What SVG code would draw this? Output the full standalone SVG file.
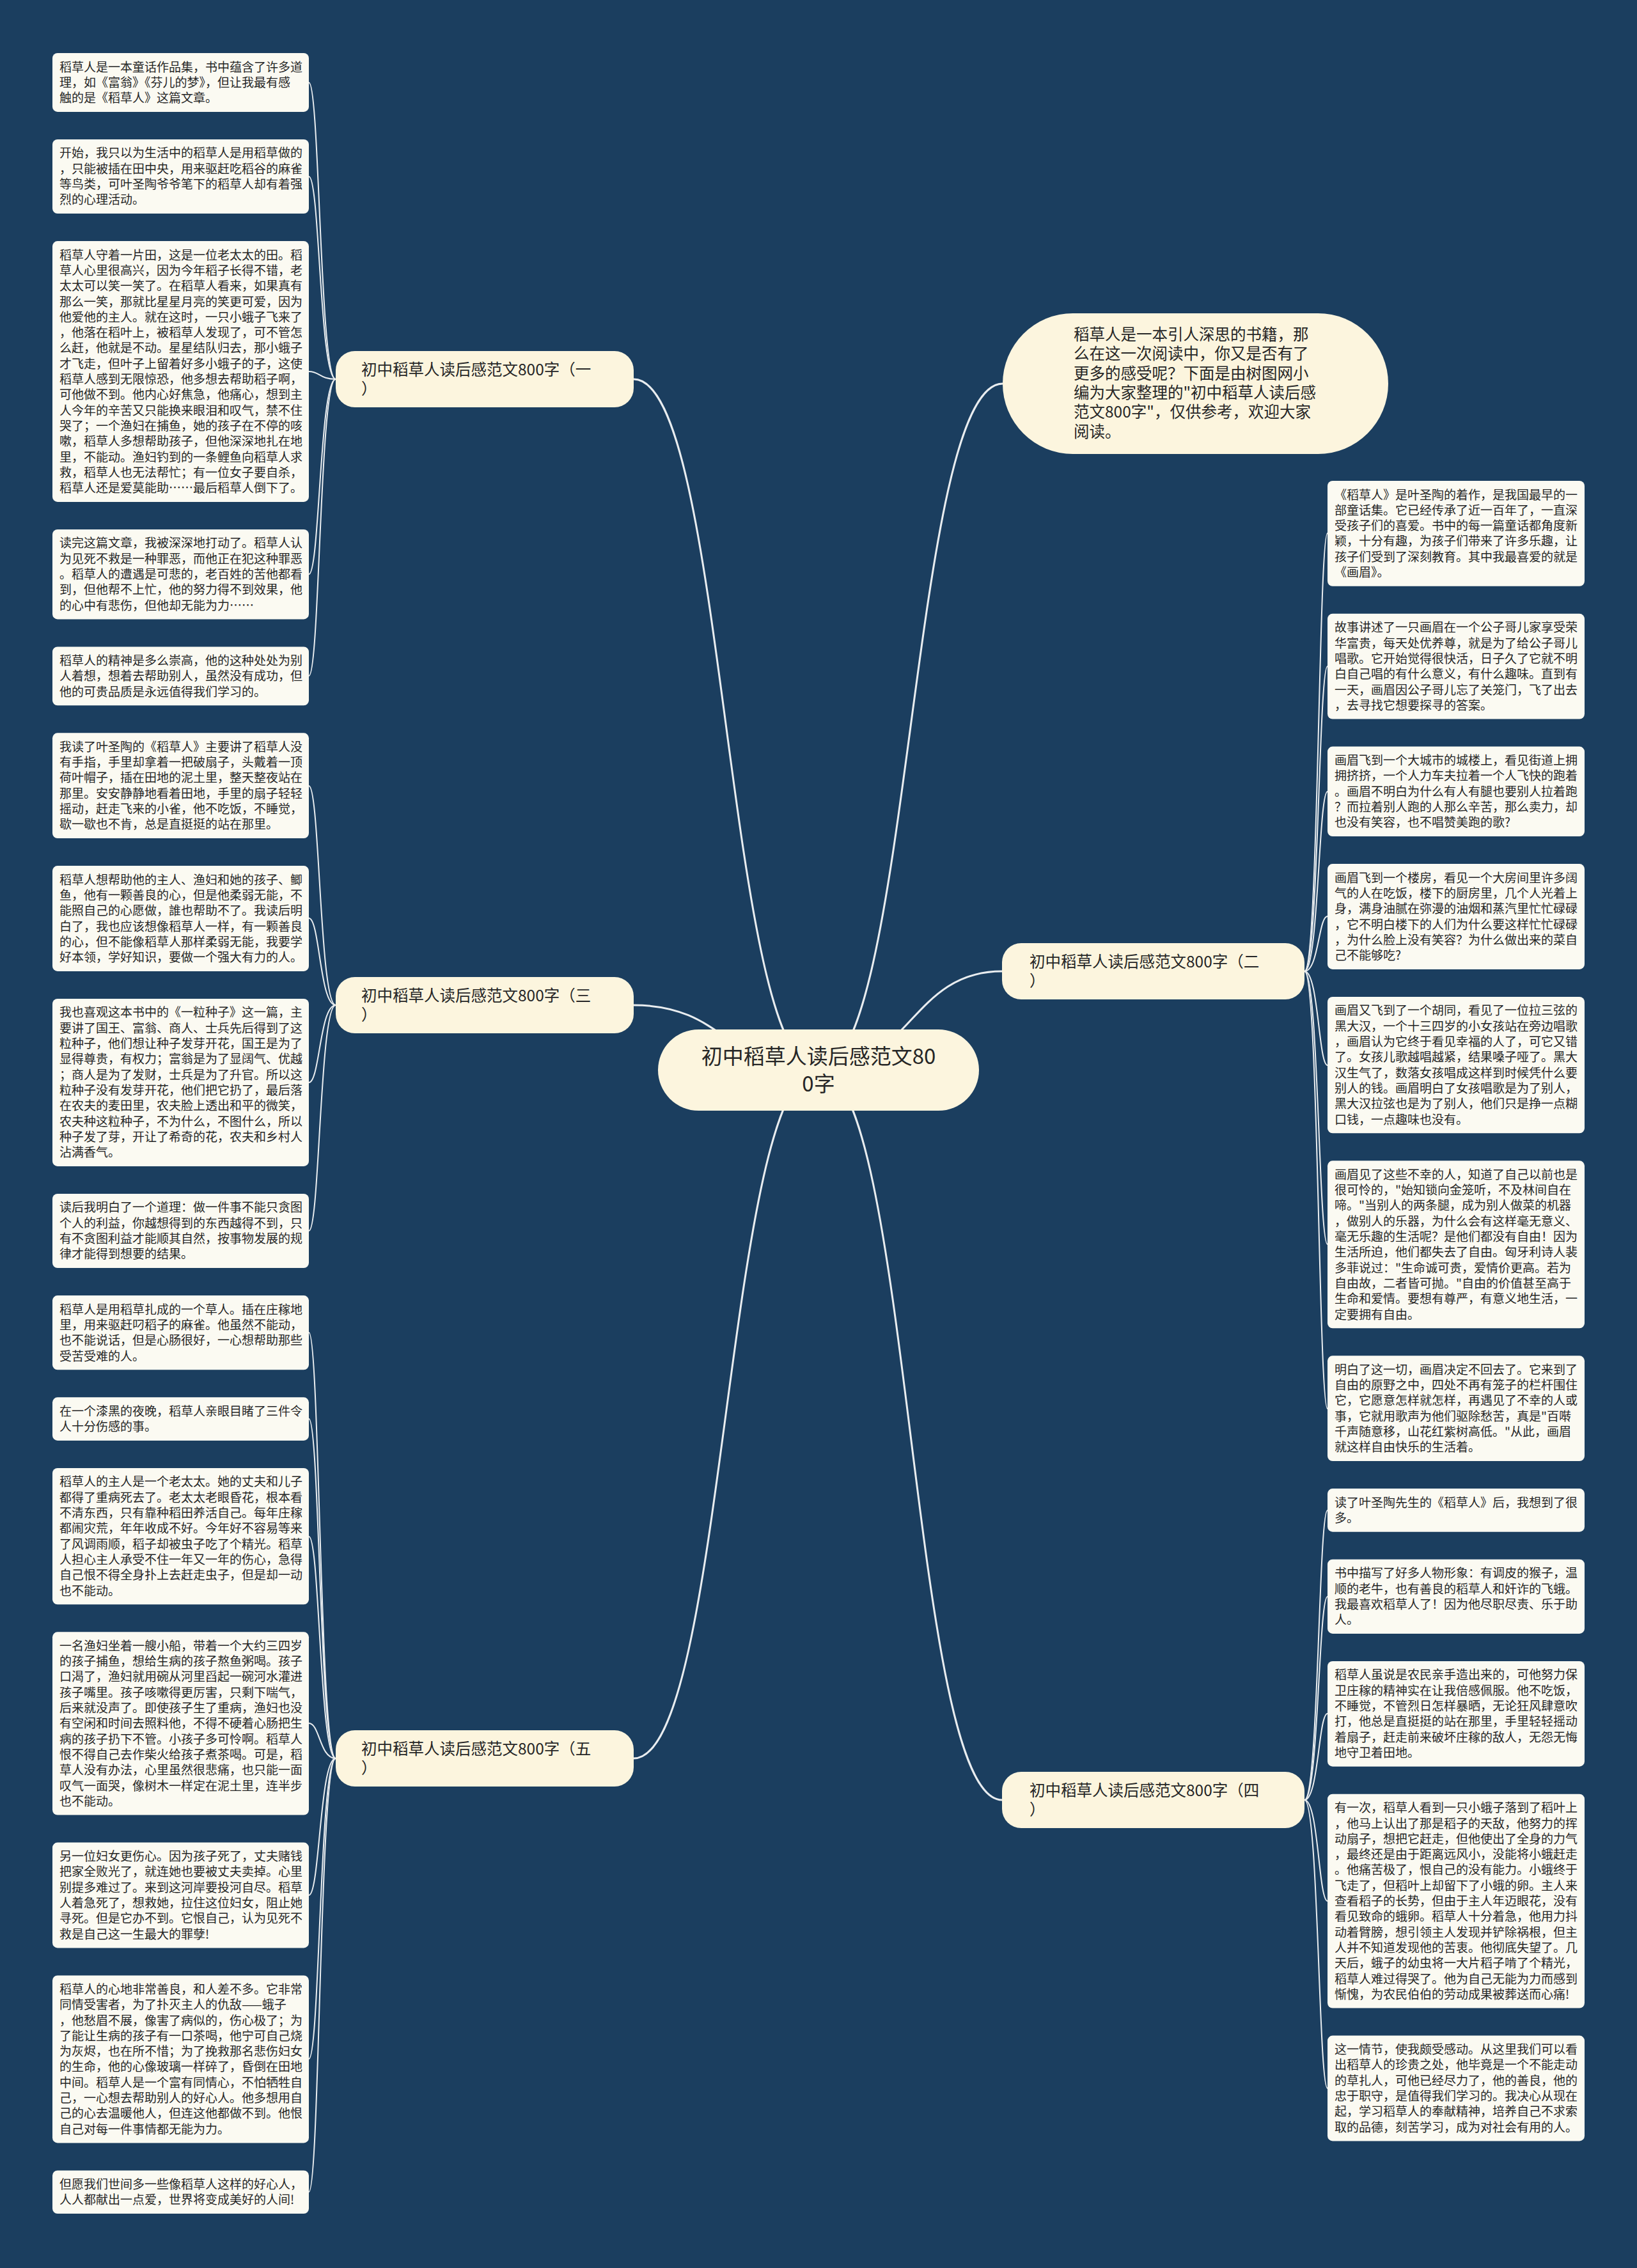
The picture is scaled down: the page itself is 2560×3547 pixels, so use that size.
<svg xmlns="http://www.w3.org/2000/svg" width="2560" height="3547" viewBox="0 0 2560 3547">
<style>
.bg{fill:#1b3e5f}
.leaf rect{fill:#fbfaf2}
.lt{font-family:"Noto Sans CJK SC","Noto Sans",sans-serif;font-size:19px;fill:#262626}
.br rect{fill:#fcf5de}
.bt{font-family:"Noto Sans CJK SC","Noto Sans",sans-serif;font-size:24.5px;fill:#262626}
.ct{font-family:"Noto Sans CJK SC","Noto Sans",sans-serif;font-size:33px;fill:#262626}
.c1{fill:none;stroke:#e9edf0;stroke-width:3}
.c2{fill:none;stroke:#e9edf0;stroke-width:2}
</style>
<rect class="bg" x="0" y="0" width="2560" height="3547"/>
<g id="connectors">
<path class="c1" d="M1280,1673 C1135,1673 1135,593 991,593"/>
<path class="c1" d="M1280,1673 C1135,1673 1135,1572 991,1572"/>
<path class="c1" d="M1280,1673 C1135,1673 1135,2750 991,2750"/>
<path class="c1" d="M1280,1673 C1424,1673 1424,600 1568,600"/>
<path class="c1" d="M1280,1673 C1424,1673 1424,1519 1567,1519"/>
<path class="c1" d="M1280,1673 C1424,1673 1424,2815 1567,2815"/>
<path class="c2" d="M525,593 C500,593 500,129 483,129"/>
<path class="c2" d="M525,593 C500,593 500,276 483,276"/>
<path class="c2" d="M525,593 C500,593 500,581 483,581"/>
<path class="c2" d="M525,593 C500,593 500,898 483,898"/>
<path class="c2" d="M525,593 C500,593 500,1057 483,1057"/>
<path class="c2" d="M525,1572 C500,1572 500,1229 483,1229"/>
<path class="c2" d="M525,1572 C500,1572 500,1436 483,1436"/>
<path class="c2" d="M525,1572 C500,1572 500,1693 483,1693"/>
<path class="c2" d="M525,1572 C500,1572 500,1925 483,1925"/>
<path class="c2" d="M525,2750 C500,2750 500,2084 483,2084"/>
<path class="c2" d="M525,2750 C500,2750 500,2219 483,2219"/>
<path class="c2" d="M525,2750 C500,2750 500,2403 483,2403"/>
<path class="c2" d="M525,2750 C500,2750 500,2695 483,2695"/>
<path class="c2" d="M525,2750 C500,2750 500,2964 483,2964"/>
<path class="c2" d="M525,2750 C500,2750 500,3220 483,3220"/>
<path class="c2" d="M525,2750 C500,2750 500,3428 483,3428"/>
<path class="c2" d="M2040,1519 C2062,1519 2062,834 2076,834"/>
<path class="c2" d="M2040,1519 C2062,1519 2062,1042 2076,1042"/>
<path class="c2" d="M2040,1519 C2062,1519 2062,1238 2076,1238"/>
<path class="c2" d="M2040,1519 C2062,1519 2062,1433 2076,1433"/>
<path class="c2" d="M2040,1519 C2062,1519 2062,1666 2076,1666"/>
<path class="c2" d="M2040,1519 C2062,1519 2062,1946 2076,1946"/>
<path class="c2" d="M2040,1519 C2062,1519 2062,2203 2076,2203"/>
<path class="c2" d="M2040,2815 C2062,2815 2062,2362 2076,2362"/>
<path class="c2" d="M2040,2815 C2062,2815 2062,2497 2076,2497"/>
<path class="c2" d="M2040,2815 C2062,2815 2062,2680 2076,2680"/>
<path class="c2" d="M2040,2815 C2062,2815 2062,2973 2076,2973"/>
<path class="c2" d="M2040,2815 C2062,2815 2062,3266 2076,3266"/>
</g>
<g id="center" class="br">
<rect x="1029" y="1610" width="502" height="127" rx="63.5"/>
<text class="ct" text-anchor="middle"><tspan x="1280" y="1664">初中稻草人读后感范文80</tspan><tspan x="1280" y="1707">0字</tspan></text>
</g>
<g id="intro" class="br">
<rect x="1568" y="490" width="603" height="220" rx="110"/>
<text class="bt"><tspan x="1679" y="532">稻草人是一本引人深思的书籍，那</tspan><tspan x="1679" y="562.3">么在这一次阅读中，你又是否有了</tspan><tspan x="1679" y="592.6">更多的感受呢？下面是由树图网小</tspan><tspan x="1679" y="622.9">编为大家整理的"初中稻草人读后感</tspan><tspan x="1679" y="653.2">范文800字"，仅供参考，欢迎大家</tspan><tspan x="1679" y="683.5">阅读。</tspan></text>
</g>
<g id="b1" class="br" transform="translate(525,549)">
<rect width="466" height="88" rx="30"/>
<text class="bt"><tspan x="40" y="38">初中稻草人读后感范文800字（一</tspan><tspan x="40" y="68">）</tspan></text>
</g>
<g id="b3" class="br" transform="translate(525,1528)">
<rect width="466" height="88" rx="30"/>
<text class="bt"><tspan x="40" y="38">初中稻草人读后感范文800字（三</tspan><tspan x="40" y="68">）</tspan></text>
</g>
<g id="b5" class="br" transform="translate(525,2706)">
<rect width="466" height="88" rx="30"/>
<text class="bt"><tspan x="40" y="38">初中稻草人读后感范文800字（五</tspan><tspan x="40" y="68">）</tspan></text>
</g>
<g id="b2" class="br" transform="translate(1567,1475)">
<rect width="473" height="88" rx="30"/>
<text class="bt"><tspan x="43" y="38">初中稻草人读后感范文800字（二</tspan><tspan x="43" y="68">）</tspan></text>
</g>
<g id="b4" class="br" transform="translate(1567,2771)">
<rect width="473" height="88" rx="30"/>
<text class="bt"><tspan x="43" y="38">初中稻草人读后感范文800字（四</tspan><tspan x="43" y="68">）</tspan></text>
</g>
<g id="L1" class="leaf" transform="translate(82,83)"><rect width="401" height="91.9" rx="8"/><text class="lt" y="28.6"><tspan x="11">稻草人是一本童话作品集，书中蕴含了许多道</tspan><tspan x="11" dy="24.3">理，如《富翁》《芬儿的梦》，但让我最有感</tspan><tspan x="11" dy="24.3">触的是《稻草人》这篇文章。</tspan></text></g>
<g id="L2" class="leaf" transform="translate(82,217.9)"><rect width="401" height="116.2" rx="8"/><text class="lt" y="28.6"><tspan x="11">开始，我只以为生活中的稻草人是用稻草做的</tspan><tspan x="11" dy="24.3">，只能被插在田中央，用来驱赶吃稻谷的麻雀</tspan><tspan x="11" dy="24.3">等鸟类，可叶圣陶爷爷笔下的稻草人却有着强</tspan><tspan x="11" dy="24.3">烈的心理活动。</tspan></text></g>
<g id="L3" class="leaf" transform="translate(82,377.1)"><rect width="401" height="407.8" rx="8"/><text class="lt" y="28.6"><tspan x="11">稻草人守着一片田，这是一位老太太的田。稻</tspan><tspan x="11" dy="24.3">草人心里很高兴，因为今年稻子长得不错，老</tspan><tspan x="11" dy="24.3">太太可以笑一笑了。在稻草人看来，如果真有</tspan><tspan x="11" dy="24.3">那么一笑，那就比星星月亮的笑更可爱，因为</tspan><tspan x="11" dy="24.3">他爱他的主人。就在这时，一只小蛾子飞来了</tspan><tspan x="11" dy="24.3">，他落在稻叶上，被稻草人发现了，可不管怎</tspan><tspan x="11" dy="24.3">么赶，他就是不动。星星结队归去，那小蛾子</tspan><tspan x="11" dy="24.3">才飞走，但叶子上留着好多小蛾子的子，这使</tspan><tspan x="11" dy="24.3">稻草人感到无限惊恐，他多想去帮助稻子啊，</tspan><tspan x="11" dy="24.3">可他做不到。他内心好焦急，他痛心，想到主</tspan><tspan x="11" dy="24.3">人今年的辛苦又只能换来眼泪和叹气，禁不住</tspan><tspan x="11" dy="24.3">哭了；一个渔妇在捕鱼，她的孩子在不停的咳</tspan><tspan x="11" dy="24.3">嗽，稻草人多想帮助孩子，但他深深地扎在地</tspan><tspan x="11" dy="24.3">里，不能动。渔妇钓到的一条鲤鱼向稻草人求</tspan><tspan x="11" dy="24.3">救，稻草人也无法帮忙；有一位女子要自杀，</tspan><tspan x="11" dy="24.3">稻草人还是爱莫能助……最后稻草人倒下了。</tspan></text></g>
<g id="L4" class="leaf" transform="translate(82,827.9)"><rect width="401" height="140.5" rx="8"/><text class="lt" y="28.6"><tspan x="11">读完这篇文章，我被深深地打动了。稻草人认</tspan><tspan x="11" dy="24.3">为见死不救是一种罪恶，而他正在犯这种罪恶</tspan><tspan x="11" dy="24.3">。稻草人的遭遇是可悲的，老百姓的苦他都看</tspan><tspan x="11" dy="24.3">到，但他帮不上忙，他的努力得不到效果，他</tspan><tspan x="11" dy="24.3">的心中有悲伤，但他却无能为力……</tspan></text></g>
<g id="L5" class="leaf" transform="translate(82,1011.4)"><rect width="401" height="91.9" rx="8"/><text class="lt" y="28.6"><tspan x="11">稻草人的精神是多么崇高，他的这种处处为别</tspan><tspan x="11" dy="24.3">人着想，想着去帮助别人，虽然没有成功，但</tspan><tspan x="11" dy="24.3">他的可贵品质是永远值得我们学习的。</tspan></text></g>
<g id="L6" class="leaf" transform="translate(82,1146.3)"><rect width="401" height="164.8" rx="8"/><text class="lt" y="28.6"><tspan x="11">我读了叶圣陶的《稻草人》主要讲了稻草人没</tspan><tspan x="11" dy="24.3">有手指，手里却拿着一把破扇子，头戴着一顶</tspan><tspan x="11" dy="24.3">荷叶帽子，插在田地的泥土里，整天整夜站在</tspan><tspan x="11" dy="24.3">那里。安安静静地看着田地，手里的扇子轻轻</tspan><tspan x="11" dy="24.3">摇动，赶走飞来的小雀，他不吃饭，不睡觉，</tspan><tspan x="11" dy="24.3">歇一歇也不肯，总是直挺挺的站在那里。</tspan></text></g>
<g id="L7" class="leaf" transform="translate(82,1354.1)"><rect width="401" height="164.8" rx="8"/><text class="lt" y="28.6"><tspan x="11">稻草人想帮助他的主人、渔妇和她的孩子、鲫</tspan><tspan x="11" dy="24.3">鱼，他有一颗善良的心，但是他柔弱无能，不</tspan><tspan x="11" dy="24.3">能照自己的心愿做，誰也帮助不了。我读后明</tspan><tspan x="11" dy="24.3">白了，我也应该想像稻草人一样，有一颗善良</tspan><tspan x="11" dy="24.3">的心，但不能像稻草人那样柔弱无能，我要学</tspan><tspan x="11" dy="24.3">好本领，学好知识，要做一个强大有力的人。</tspan></text></g>
<g id="L8" class="leaf" transform="translate(82,1561.9)"><rect width="401" height="262" rx="8"/><text class="lt" y="28.6"><tspan x="11">我也喜观这本书中的《一粒种子》这一篇，主</tspan><tspan x="11" dy="24.3">要讲了国王、富翁、商人、士兵先后得到了这</tspan><tspan x="11" dy="24.3">粒种子，他们想让种子发芽开花，国王是为了</tspan><tspan x="11" dy="24.3">显得尊贵，有权力；富翁是为了显阔气、优越</tspan><tspan x="11" dy="24.3">；商人是为了发财，士兵是为了升官。所以这</tspan><tspan x="11" dy="24.3">粒种子没有发芽开花，他们把它扔了，最后落</tspan><tspan x="11" dy="24.3">在农夫的麦田里，农夫脸上透出和平的微笑，</tspan><tspan x="11" dy="24.3">农夫种这粒种子，不为什么，不图什么，所以</tspan><tspan x="11" dy="24.3">种子发了芽，开让了希奇的花，农夫和乡村人</tspan><tspan x="11" dy="24.3">沾满香气。</tspan></text></g>
<g id="L9" class="leaf" transform="translate(82,1866.9)"><rect width="401" height="116.2" rx="8"/><text class="lt" y="28.6"><tspan x="11">读后我明白了一个道理：做一件事不能只贪图</tspan><tspan x="11" dy="24.3">个人的利益，你越想得到的东西越得不到，只</tspan><tspan x="11" dy="24.3">有不贪图利益才能顺其自然，按事物发展的规</tspan><tspan x="11" dy="24.3">律才能得到想要的结果。</tspan></text></g>
<g id="L10" class="leaf" transform="translate(82,2026.1)"><rect width="401" height="116.2" rx="8"/><text class="lt" y="28.6"><tspan x="11">稻草人是用稻草扎成的一个草人。插在庄稼地</tspan><tspan x="11" dy="24.3">里，用来驱赶叼稻子的麻雀。他虽然不能动，</tspan><tspan x="11" dy="24.3">也不能说话，但是心肠很好，一心想帮助那些</tspan><tspan x="11" dy="24.3">受苦受难的人。</tspan></text></g>
<g id="L11" class="leaf" transform="translate(82,2185.3)"><rect width="401" height="67.6" rx="8"/><text class="lt" y="28.6"><tspan x="11">在一个漆黑的夜晚，稻草人亲眼目睹了三件令</tspan><tspan x="11" dy="24.3">人十分伤感的事。</tspan></text></g>
<g id="L12" class="leaf" transform="translate(82,2295.9)"><rect width="401" height="213.4" rx="8"/><text class="lt" y="28.6"><tspan x="11">稻草人的主人是一个老太太。她的丈夫和儿子</tspan><tspan x="11" dy="24.3">都得了重病死去了。老太太老眼昏花，根本看</tspan><tspan x="11" dy="24.3">不清东西，只有靠种稻田养活自己。每年庄稼</tspan><tspan x="11" dy="24.3">都闹灾荒，年年收成不好。今年好不容易等来</tspan><tspan x="11" dy="24.3">了风调雨顺，稻子却被虫子吃了个精光。稻草</tspan><tspan x="11" dy="24.3">人担心主人承受不住一年又一年的伤心，急得</tspan><tspan x="11" dy="24.3">自己恨不得全身扑上去赶走虫子，但是却一动</tspan><tspan x="11" dy="24.3">也不能动。</tspan></text></g>
<g id="L13" class="leaf" transform="translate(82,2552.3)"><rect width="401" height="286.3" rx="8"/><text class="lt" y="28.6"><tspan x="11">一名渔妇坐着一艘小船，带着一个大约三四岁</tspan><tspan x="11" dy="24.3">的孩子捕鱼，想给生病的孩子熬鱼粥喝。孩子</tspan><tspan x="11" dy="24.3">口渴了，渔妇就用碗从河里舀起一碗河水灌进</tspan><tspan x="11" dy="24.3">孩子嘴里。孩子咳嗽得更厉害，只剩下喘气，</tspan><tspan x="11" dy="24.3">后来就没声了。即使孩子生了重病，渔妇也没</tspan><tspan x="11" dy="24.3">有空闲和时间去照料他，不得不硬着心肠把生</tspan><tspan x="11" dy="24.3">病的孩子扔下不管。小孩子多可怜啊。稻草人</tspan><tspan x="11" dy="24.3">恨不得自己去作柴火给孩子煮茶喝。可是，稻</tspan><tspan x="11" dy="24.3">草人没有办法，心里虽然很悲痛，也只能一面</tspan><tspan x="11" dy="24.3">叹气一面哭，像树木一样定在泥土里，连半步</tspan><tspan x="11" dy="24.3">也不能动。</tspan></text></g>
<g id="L14" class="leaf" transform="translate(82,2881.6)"><rect width="401" height="164.8" rx="8"/><text class="lt" y="28.6"><tspan x="11">另一位妇女更伤心。因为孩子死了，丈夫赌钱</tspan><tspan x="11" dy="24.3">把家全败光了，就连她也要被丈夫卖掉。心里</tspan><tspan x="11" dy="24.3">别提多难过了。来到这河岸要投河自尽。稻草</tspan><tspan x="11" dy="24.3">人着急死了，想救她，拉住这位妇女，阻止她</tspan><tspan x="11" dy="24.3">寻死。但是它办不到。它恨自己，认为见死不</tspan><tspan x="11" dy="24.3">救是自己这一生最大的罪孽!</tspan></text></g>
<g id="L15" class="leaf" transform="translate(82,3089.4)"><rect width="401" height="262" rx="8"/><text class="lt" y="28.6"><tspan x="11">稻草人的心地非常善良，和人差不多。它非常</tspan><tspan x="11" dy="24.3">同情受害者，为了扑灭主人的仇敌——蛾子</tspan><tspan x="11" dy="24.3">，他愁眉不展，像害了病似的，伤心极了；为</tspan><tspan x="11" dy="24.3">了能让生病的孩子有一口茶喝，他宁可自己烧</tspan><tspan x="11" dy="24.3">为灰烬，也在所不惜；为了挽救那名悲伤妇女</tspan><tspan x="11" dy="24.3">的生命，他的心像玻璃一样碎了，昏倒在田地</tspan><tspan x="11" dy="24.3">中间。稻草人是一个富有同情心，不怕牺牲自</tspan><tspan x="11" dy="24.3">己，一心想去帮助别人的好心人。他多想用自</tspan><tspan x="11" dy="24.3">己的心去温暖他人，但连这他都做不到。他恨</tspan><tspan x="11" dy="24.3">自己对每一件事情都无能为力。</tspan></text></g>
<g id="L16" class="leaf" transform="translate(82,3394.4)"><rect width="401" height="67.6" rx="8"/><text class="lt" y="28.6"><tspan x="11">但愿我们世间多一些像稻草人这样的好心人，</tspan><tspan x="11" dy="24.3">人人都献出一点爱，世界将变成美好的人间!</tspan></text></g>
<g id="R1" class="leaf" transform="translate(2076,752)"><rect width="402" height="164.8" rx="8"/><text class="lt" y="28.6"><tspan x="11">《稻草人》是叶圣陶的着作，是我国最早的一</tspan><tspan x="11" dy="24.3">部童话集。它已经传承了近一百年了，一直深</tspan><tspan x="11" dy="24.3">受孩子们的喜爱。书中的每一篇童话都角度新</tspan><tspan x="11" dy="24.3">颖，十分有趣，为孩子们带来了许多乐趣，让</tspan><tspan x="11" dy="24.3">孩子们受到了深刻教育。其中我最喜爱的就是</tspan><tspan x="11" dy="24.3">《画眉》。</tspan></text></g>
<g id="R2" class="leaf" transform="translate(2076,959.8)"><rect width="402" height="164.8" rx="8"/><text class="lt" y="28.6"><tspan x="11">故事讲述了一只画眉在一个公子哥儿家享受荣</tspan><tspan x="11" dy="24.3">华富贵，每天处优养尊，就是为了给公子哥儿</tspan><tspan x="11" dy="24.3">唱歌。它开始觉得很快活，日子久了它就不明</tspan><tspan x="11" dy="24.3">白自己唱的有什么意义，有什么趣味。直到有</tspan><tspan x="11" dy="24.3">一天，画眉因公子哥儿忘了关笼门，飞了出去</tspan><tspan x="11" dy="24.3">，去寻找它想要探寻的答案。</tspan></text></g>
<g id="R3" class="leaf" transform="translate(2076,1167.6)"><rect width="402" height="140.5" rx="8"/><text class="lt" y="28.6"><tspan x="11">画眉飞到一个大城市的城楼上，看见街道上拥</tspan><tspan x="11" dy="24.3">拥挤挤，一个人力车夫拉着一个人飞快的跑着</tspan><tspan x="11" dy="24.3">。画眉不明白为什么有人有腿也要别人拉着跑</tspan><tspan x="11" dy="24.3">？而拉着别人跑的人那么辛苦，那么卖力，却</tspan><tspan x="11" dy="24.3">也没有笑容，也不唱赞美跑的歌?</tspan></text></g>
<g id="R4" class="leaf" transform="translate(2076,1351.1)"><rect width="402" height="164.8" rx="8"/><text class="lt" y="28.6"><tspan x="11">画眉飞到一个楼房，看见一个大房间里许多阔</tspan><tspan x="11" dy="24.3">气的人在吃饭，楼下的厨房里，几个人光着上</tspan><tspan x="11" dy="24.3">身，满身油腻在弥漫的油烟和蒸汽里忙忙碌碌</tspan><tspan x="11" dy="24.3">，它不明白楼下的人们为什么要这样忙忙碌碌</tspan><tspan x="11" dy="24.3">，为什么脸上没有笑容？为什么做出来的菜自</tspan><tspan x="11" dy="24.3">己不能够吃?</tspan></text></g>
<g id="R5" class="leaf" transform="translate(2076,1558.9)"><rect width="402" height="213.4" rx="8"/><text class="lt" y="28.6"><tspan x="11">画眉又飞到了一个胡同，看见了一位拉三弦的</tspan><tspan x="11" dy="24.3">黑大汉，一个十三四岁的小女孩站在旁边唱歌</tspan><tspan x="11" dy="24.3">，画眉认为它终于看见幸福的人了，可它又错</tspan><tspan x="11" dy="24.3">了。女孩儿歌越唱越紧，结果嗓子哑了。黑大</tspan><tspan x="11" dy="24.3">汉生气了，数落女孩唱成这样到时候凭什么要</tspan><tspan x="11" dy="24.3">别人的钱。画眉明白了女孩唱歌是为了别人，</tspan><tspan x="11" dy="24.3">黑大汉拉弦也是为了别人，他们只是挣一点糊</tspan><tspan x="11" dy="24.3">口钱，一点趣味也没有。</tspan></text></g>
<g id="R6" class="leaf" transform="translate(2076,1815.3)"><rect width="402" height="262" rx="8"/><text class="lt" y="28.6"><tspan x="11">画眉见了这些不幸的人，知道了自己以前也是</tspan><tspan x="11" dy="24.3">很可怜的，"始知锁向金笼听，不及林间自在</tspan><tspan x="11" dy="24.3">啼。"当别人的两条腿，成为别人做菜的机器</tspan><tspan x="11" dy="24.3">，做别人的乐器，为什么会有这样毫无意义、</tspan><tspan x="11" dy="24.3">毫无乐趣的生活呢？是他们都没有自由！因为</tspan><tspan x="11" dy="24.3">生活所迫，他们都失去了自由。匈牙利诗人裴</tspan><tspan x="11" dy="24.3">多菲说过："生命诚可贵，爱情价更高。若为</tspan><tspan x="11" dy="24.3">自由故，二者皆可抛。"自由的价值甚至高于</tspan><tspan x="11" dy="24.3">生命和爱情。要想有尊严，有意义地生活，一</tspan><tspan x="11" dy="24.3">定要拥有自由。</tspan></text></g>
<g id="R7" class="leaf" transform="translate(2076,2120.3)"><rect width="402" height="164.8" rx="8"/><text class="lt" y="28.6"><tspan x="11">明白了这一切，画眉决定不回去了。它来到了</tspan><tspan x="11" dy="24.3">自由的原野之中，四处不再有笼子的栏杆围住</tspan><tspan x="11" dy="24.3">它，它愿意怎样就怎样，再遇见了不幸的人或</tspan><tspan x="11" dy="24.3">事，它就用歌声为他们驱除愁苦，真是"百啭</tspan><tspan x="11" dy="24.3">千声随意移，山花红紫树高低。"从此，画眉</tspan><tspan x="11" dy="24.3">就这样自由快乐的生活着。</tspan></text></g>
<g id="R8" class="leaf" transform="translate(2076,2328.1)"><rect width="402" height="67.6" rx="8"/><text class="lt" y="28.6"><tspan x="11">读了叶圣陶先生的《稻草人》后，我想到了很</tspan><tspan x="11" dy="24.3">多。</tspan></text></g>
<g id="R9" class="leaf" transform="translate(2076,2438.7)"><rect width="402" height="116.2" rx="8"/><text class="lt" y="28.6"><tspan x="11">书中描写了好多人物形象：有调皮的猴子，温</tspan><tspan x="11" dy="24.3">顺的老牛，也有善良的稻草人和奸诈的飞蛾。</tspan><tspan x="11" dy="24.3">我最喜欢稻草人了！因为他尽职尽责、乐于助</tspan><tspan x="11" dy="24.3">人。</tspan></text></g>
<g id="R10" class="leaf" transform="translate(2076,2597.9)"><rect width="402" height="164.8" rx="8"/><text class="lt" y="28.6"><tspan x="11">稻草人虽说是农民亲手造出来的，可他努力保</tspan><tspan x="11" dy="24.3">卫庄稼的精神实在让我倍感佩服。他不吃饭，</tspan><tspan x="11" dy="24.3">不睡觉，不管烈日怎样暴晒，无论狂风肆意吹</tspan><tspan x="11" dy="24.3">打，他总是直挺挺的站在那里，手里轻轻摇动</tspan><tspan x="11" dy="24.3">着扇子，赶走前来破坏庄稼的敌人，无怨无悔</tspan><tspan x="11" dy="24.3">地守卫着田地。</tspan></text></g>
<g id="R11" class="leaf" transform="translate(2076,2805.7)"><rect width="402" height="334.9" rx="8"/><text class="lt" y="28.6"><tspan x="11">有一次，稻草人看到一只小蛾子落到了稻叶上</tspan><tspan x="11" dy="24.3">，他马上认出了那是稻子的天敌，他努力的挥</tspan><tspan x="11" dy="24.3">动扇子，想把它赶走，但他使出了全身的力气</tspan><tspan x="11" dy="24.3">，最终还是由于距离远风小，没能将小蛾赶走</tspan><tspan x="11" dy="24.3">。他痛苦极了，恨自己的没有能力。小蛾终于</tspan><tspan x="11" dy="24.3">飞走了，但稻叶上却留下了小蛾的卵。主人来</tspan><tspan x="11" dy="24.3">查看稻子的长势，但由于主人年迈眼花，没有</tspan><tspan x="11" dy="24.3">看见致命的蛾卵。稻草人十分着急，他用力抖</tspan><tspan x="11" dy="24.3">动着臂膀，想引领主人发现并铲除祸根，但主</tspan><tspan x="11" dy="24.3">人并不知道发现他的苦衷。他彻底失望了。几</tspan><tspan x="11" dy="24.3">天后，蛾子的幼虫将一大片稻子啃了个精光，</tspan><tspan x="11" dy="24.3">稻草人难过得哭了。他为自己无能为力而感到</tspan><tspan x="11" dy="24.3">惭愧，为农民伯伯的劳动成果被葬送而心痛!</tspan></text></g>
<g id="R12" class="leaf" transform="translate(2076,3183.6)"><rect width="402" height="164.8" rx="8"/><text class="lt" y="28.6"><tspan x="11">这一情节，使我颇受感动。从这里我们可以看</tspan><tspan x="11" dy="24.3">出稻草人的珍贵之处，他毕竟是一个不能走动</tspan><tspan x="11" dy="24.3">的草扎人，可他已经尽力了，他的善良，他的</tspan><tspan x="11" dy="24.3">忠于职守，是值得我们学习的。我决心从现在</tspan><tspan x="11" dy="24.3">起，学习稻草人的奉献精神，培养自己不求索</tspan><tspan x="11" dy="24.3">取的品德，刻苦学习，成为对社会有用的人。</tspan></text></g>
</svg>
